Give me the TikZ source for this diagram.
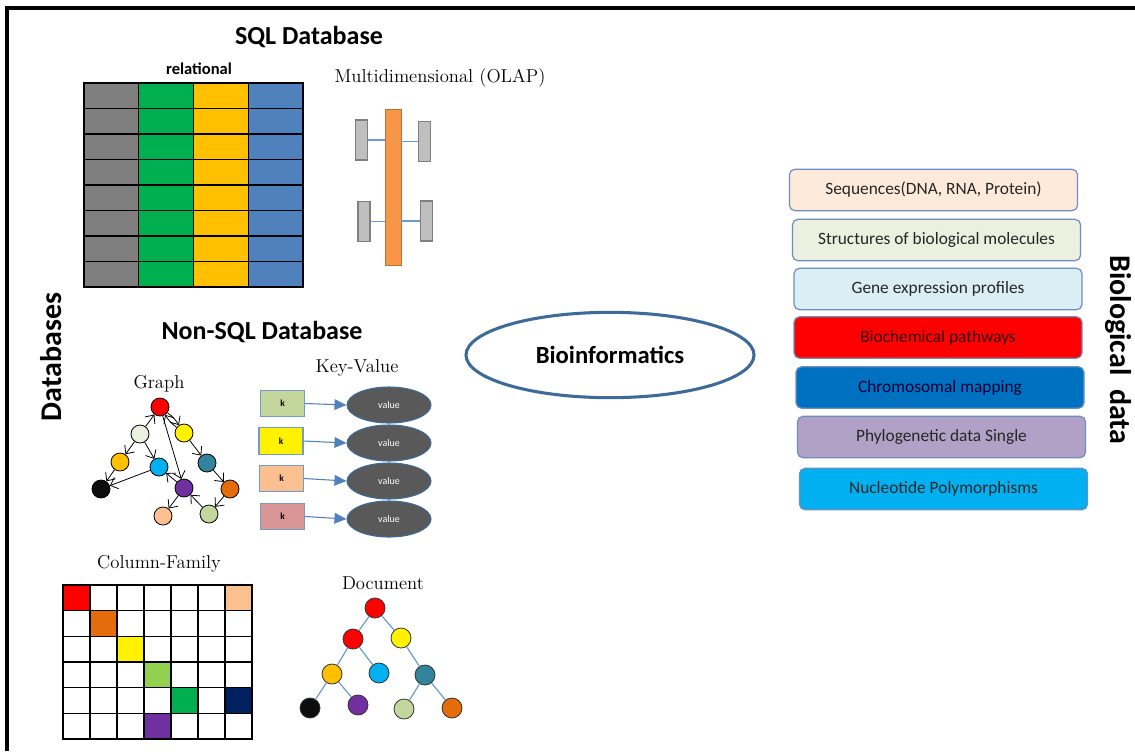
\documentclass[tikz,border=0pt]{standalone}
\usepackage{fontspec}
\newfontfamily\calibri{Carlito}
\usepackage{xcolor}
\usepackage{tikz}
\usetikzlibrary{arrows.meta,positioning,shapes.geometric}

\definecolor{tGray}{HTML}{7F7F7F}
\definecolor{tGreen}{HTML}{00B050}
\definecolor{tGold}{HTML}{FFC000}
\definecolor{tBlue}{HTML}{4F81BD}
\definecolor{olapOrange}{HTML}{F79646}
\definecolor{olapGray}{HTML}{BFBFBF}
\definecolor{linkBlue}{HTML}{6A9BD0}
\definecolor{kOlive}{HTML}{C3D69B}
\definecolor{kPeach}{HTML}{FAC090}
\definecolor{kRose}{HTML}{D99694}
\definecolor{vGray}{HTML}{595959}
\definecolor{ellEdge}{HTML}{3E6A9A}
\definecolor{boxEdge}{HTML}{6D8EBF}
\definecolor{nLight}{HTML}{EBF1DE}
\definecolor{nCyan}{HTML}{00B0F0}
\definecolor{nTeal}{HTML}{31849B}
\definecolor{nPurple}{HTML}{7030A0}
\definecolor{nOrange}{HTML}{E46C0A}
\definecolor{nBlack}{HTML}{0D0D0D}
\definecolor{nLime}{HTML}{92D050}
\definecolor{nNavy}{HTML}{002060}
\definecolor{bSeq}{HTML}{FDEADA}
\definecolor{bStruct}{HTML}{EBF1DE}
\definecolor{bGene}{HTML}{DAEEF3}
\definecolor{bChrom}{HTML}{0070C0}
\definecolor{bPhylo}{HTML}{B2A1C7}

\begin{document}
\begin{tikzpicture}[x=0.75pt, y=-0.75pt,
  title/.style={font=\calibri\bfseries\fontsize{19.5}{22}\selectfont},
  side/.style={font=\calibri\bfseries\fontsize{22.5}{26}\selectfont},
  lbl/.style={font=\fontsize{14}{16}\selectfont},
  databox/.style={rectangle, rounded corners=4pt, draw=boxEdge, line width=0.9pt, fill=#1,
    minimum width=216pt, minimum height=31pt, inner sep=0pt, align=center,
    font=\calibri\fontsize{13}{15}\selectfont, text=black!85},
  gnode/.style={circle, draw=black, line width=0.6pt, fill=#1, minimum size=13.5pt, inner sep=0pt},
  dnode/.style={circle, draw=black!80, line width=0.6pt, fill=#1, minimum size=15pt, inner sep=0pt},
  garr/.style={-{Straight Barb[length=5pt,width=9pt]}, line width=0.6pt},
  dline/.style={draw=linkBlue, line width=0.9pt},
  kbox/.style={rectangle, draw=tBlue!80, line width=0.8pt, fill=#1, minimum width=33pt,
    minimum height=20pt, inner sep=0pt, font=\calibri\bfseries\fontsize{7}{8}\selectfont},
  vell/.style={ellipse, draw=ellEdge, line width=0.8pt, fill=vGray, minimum width=63pt,
    minimum height=27pt, inner sep=0pt, text=white, font=\calibri\fontsize{7.5}{8}\selectfont},
  kvarr/.style={-{Triangle[length=9pt,width=8pt]}, draw=tBlue, line width=0.8pt},
  olapbar/.style={rectangle, draw=olapOrange!75!black, line width=0.6pt, fill=olapOrange,
    minimum width=12pt, minimum height=117pt, inner sep=0pt},
  olapdim/.style={rectangle, draw=tGray, line width=0.8pt, fill=olapGray,
    minimum width=9pt, minimum height=30pt, inner sep=0pt},
  cell/.style={draw=black, line width=1pt}
]
\useasboundingbox (0,0) rectangle (1135,751);
\draw[line width=2.3pt] (7,751) -- (7,8) -- (1135,8);

% side titles
\node[side, rotate=90] (dbs) at (51,357) {Databases};
\node[side, rotate=-90] (biodata) at (1118,350) {Biological\ \ data};

% SQL part
\node[title] (sql) at (309,37) {SQL Database};
\node[font=\calibri\bfseries\fontsize{12.4}{14}\selectfont] (rel) at (199,69) {relational};
\foreach \col [count=\i from 0] in {tGray,tGreen,tGold,tBlue}
  \foreach \r in {0,...,7}
    \draw[line width=1.1pt, fill=\col] ({84+\i*54.75},{83+\r*25.5}) rectangle ++(54.75,25.5);

\node[lbl] (olap) at (440,78) {Multidimensional (OLAP)};
\node[olapbar] (bar) at (393,187) {};
\node[olapdim] (dimLT) at (361.5,140) {};
\node[olapdim] (dimRT) at (424.5,141.5) {};
\node[olapdim] (dimLB) at (364,221.5) {};
\node[olapdim] (dimRB) at (426.5,221) {};
\draw[draw=linkBlue, line width=0.8pt] (dimLT.east) -- (dimLT.east -| bar.west);
\draw[draw=linkBlue, line width=0.8pt] (dimRT.west) -- (dimRT.west -| bar.east);
\draw[draw=linkBlue, line width=0.8pt] (dimLB.east) -- (dimLB.east -| bar.west);
\draw[draw=linkBlue, line width=0.8pt] (dimRB.west) -- (dimRB.west -| bar.east);

% Non-SQL part
\node[title] (nosql) at (262,332) {Non-SQL Database};
\node[lbl] (graph) at (159,384) {Graph};
\node[gnode=red] (gRed) at (160,407) {};
\node[gnode=nLight] (gLight) at (140,434) {};
\node[gnode=yellow] (gYellow) at (184,433) {};
\node[gnode=tGold] (gGold) at (120,462) {};
\node[gnode=nCyan] (gCyan) at (159,467) {};
\node[gnode=nTeal] (gTeal) at (207,463) {};
\node[gnode=nBlack] (gBlack) at (101,489) {};
\node[gnode=nPurple] (gPurple) at (184,488) {};
\node[gnode=nOrange] (gOrange) at (230,489) {};
\node[gnode=kPeach] (gPeach) at (163,516) {};
\node[gnode=kOlive] (gOlive) at (209,514) {};
\draw[garr] (gLight) -- (gRed);
\draw[garr] (gRed) to[bend left=10] (gYellow);
\draw[garr] (gYellow) to[bend left=10] (gRed);
\draw[garr] (gRed) -- (gPurple);
\draw[garr] (gLight) -- (gGold);
\draw[garr] (gLight) -- (gCyan);
\draw[garr] (gGold) -- (gBlack);
\draw[garr] (gCyan) -- (gBlack);
\draw[garr] (gPurple) -- (gCyan);
\draw[garr] (gYellow) -- (gTeal);
\draw[garr] (gTeal) -- (gOrange);
\draw[garr] (gOrange) -- (gOlive);
\draw[garr] (gOlive) -- (gPurple);
\draw[garr] (gPurple) -- (gPeach);

\node[lbl] (kv) at (357,368) {Key-Value};
\node[kbox=kOlive] (k1) at (282.5,403.5) {k};
\node[kbox=yellow] (k2) at (281,441) {k};
\node[kbox=kPeach] (k3) at (281.5,478.5) {k};
\node[kbox=kRose] (k4) at (282.5,516.5) {k};
\node[vell] (v1) at (389,405) {value};
\node[vell] (v2) at (389,443) {value};
\node[vell] (v3) at (389,481) {value};
\node[vell] (v4) at (389,519) {value};
\draw[kvarr] (k1.east) -- (v1.west);
\draw[kvarr] (k2.east) -- (v2.west);
\draw[kvarr] (k3.east) -- (v3.west);
\draw[kvarr] (k4.east) -- (v4.west);

\node[lbl] (colfam) at (159,564) {Column-Family};
\foreach \c in {0,...,6}
  \foreach \r in {0,...,5}
    \draw[cell] ({63+\c*27},{585+\r*25.67}) rectangle ++(27,25.67);
\foreach \c/\r/\col in {0/0/red,6/0/kPeach,1/1/nOrange,2/2/yellow,3/3/nLime,4/4/tGreen,6/4/nNavy,3/5/nPurple}
  \draw[cell, fill=\col] ({63+\c*27},{585+\r*25.67}) rectangle ++(27,25.67);

\node[lbl] (doc) at (383,583) {Document};
\node[dnode=red] (dTop) at (375,608) {};
\node[dnode=red] (dRed) at (353,639) {};
\node[dnode=yellow] (dYellow) at (401,638) {};
\node[dnode=tGold] (dGold) at (332,674) {};
\node[dnode=nCyan] (dCyan) at (379,673) {};
\node[dnode=nTeal] (dTeal) at (425,675) {};
\node[dnode=nBlack] (dBlack) at (310,708) {};
\node[dnode=nPurple] (dPurple) at (358,705) {};
\node[dnode=kOlive] (dOlive) at (404,709) {};
\node[dnode=nOrange] (dOrange) at (452,708) {};
\draw[dline] (dTop) -- (dRed);
\draw[dline] (dTop) -- (dYellow);
\draw[dline] (dRed) -- (dGold);
\draw[dline] (dRed) -- (dCyan);
\draw[dline] (dYellow) -- (dTeal);
\draw[dline] (dGold) -- (dBlack);
\draw[dline] (dGold) -- (dPurple);
\draw[dline] (dTeal) -- (dOlive);
\draw[dline] (dTeal) -- (dOrange);

% centre
\node[ellipse, draw=ellEdge, line width=2.3pt, minimum width=216pt, minimum height=64pt,
  font=\calibri\bfseries\fontsize{18.5}{21}\selectfont] (bioinf) at (610,355) {Bioinformatics};

% biological data
\node[databox=bSeq] (seq) at (933.5,190) {Sequences(DNA, RNA, Protein)};
\node[databox=bStruct] (struct) at (936.5,240) {Structures of biological molecules};
\node[databox=bGene] (gene) at (938,289) {Gene expression profiles};
\node[databox=red, text=black!80!red] (pathw) at (938,337.5) {Biochemical pathways};
\node[databox=bChrom, text=black!80!blue] (chrom) at (940,387.5) {Chromosomal mapping};
\node[databox=bPhylo] (phylo) at (941.5,437) {Phylogenetic data Single};
\node[databox=nCyan] (snp) at (943.5,489) {Nucleotide Polymorphisms};
\end{tikzpicture}
\end{document}
